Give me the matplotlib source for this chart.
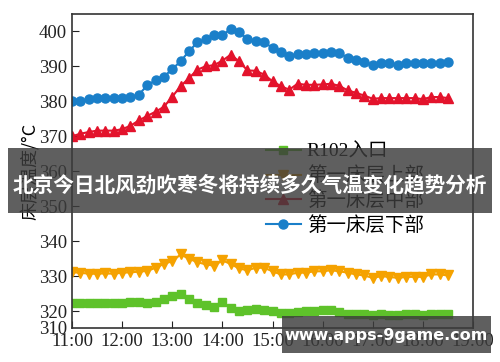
import numpy as np
import matplotlib
matplotlib.use("Agg")
import matplotlib.pyplot as plt
from matplotlib.patches import Rectangle

plt.rcParams['font.family'] = ['Liberation Serif', 'Noto Sans CJK SC', 'DejaVu Sans']

# samples every 10 minutes from 11:00
minutes = np.arange(0, 460, 10)
hours = 11 + minutes / 60.0

r102_inlet = [322.2, 322.3, 322.4, 322.4, 322.2, 322.2, 322.2, 322.5, 322.5, 322.3,
              322.5, 323.6, 324.3, 324.8, 323.5, 322.2, 321.7, 321.2, 322.6, 320.8,
              320.0, 320.4, 320.5, 320.3, 320.1, 319.5, 319.5, 319.8, 320.1, 320.1,
              320.3, 320.3, 319.8, 319.3, 319.1, 319.1, 318.9, 319.1, 318.9, 318.9,
              319.1, 319.3, 318.9, 319.3, 319.3, 319.1]
bed_upper = [331.1, 331.0, 330.7, 330.7, 330.8, 330.7, 331.0, 331.1, 331.3, 331.5,
             332.4, 333.5, 334.3, 336.2, 335.0, 334.0, 333.4, 333.0, 334.5, 333.5,
             332.2, 331.7, 332.4, 332.4, 331.4, 330.5, 330.5, 331.0, 331.0, 331.4,
             331.4, 331.7, 331.4, 331.0, 330.5, 330.2, 329.5, 330.0, 329.8, 329.5,
             329.8, 329.8, 329.8, 330.5, 330.5, 330.2]
bed_middle = [370.0, 370.7, 371.2, 371.6, 371.6, 371.6, 372.0, 373.0, 374.5, 375.8,
              377.0, 378.4, 381.3, 384.3, 386.6, 389.0, 390.0, 390.3, 391.6, 393.3,
              391.4, 388.8, 388.7, 387.6, 385.7, 384.3, 383.3, 385.0, 384.7, 384.7,
              384.8, 385.0, 384.4, 383.1, 382.4, 381.6, 380.7, 380.9, 380.9, 380.9,
              380.9, 380.9, 380.6, 381.2, 381.2, 380.9]
bed_lower = [380.0, 380.0, 380.5, 380.9, 380.9, 380.9, 380.9, 381.1, 381.9, 384.5,
             386.0, 387.0, 389.2, 391.4, 394.3, 396.8, 397.7, 399.0, 398.8, 400.7,
             399.8, 397.7, 397.3, 396.8, 395.3, 394.0, 392.8, 393.4, 393.6, 393.8,
             393.8, 394.0, 393.7, 392.5, 391.9, 391.3, 390.3, 390.8, 390.9, 390.5,
             390.8, 391.0, 391.0, 391.0, 391.0, 391.1]

hour_ticks = [11, 12, 13, 14, 15, 16, 17, 18, 19]
hour_labels = ['11:00', '12:00', '13:00', '14:00', '15:00', '16:00', '17:00', '18:00', '19:00']
y_ticks = [315.2, 320, 330, 340, 350, 360, 370, 380, 390, 400]
y_labels = ['310', '320', '330', '340', '350', '360', '370', '380', '390', '400']

fig = plt.figure(figsize=(5, 3.62), dpi=100)
ax = fig.add_axes([0.144, 0.094, 0.802, 0.867])

ax.plot(hours, r102_inlet, color='#5ec22a', marker='s', markersize=6, lw=1.5, label='R102入口')
ax.plot(hours, bed_upper, color='#f5a200', marker='v', markersize=7, lw=1.5, label='第一床层上部')
ax.plot(hours, bed_middle, color='#e3132c', marker='^', markersize=7, lw=1.5, label='第一床层中部')
ax.plot(hours, bed_lower, color='#1a7fc9', marker='o', markersize=6.5, lw=1.5, label='第一床层下部')

ax.set_xlim(11, 19)
ax.set_ylim(315.2, 404.9)
ax.set_xticks(hour_ticks)
ax.set_xticklabels(hour_labels)
ax.set_yticks(y_ticks)
ax.set_yticklabels(y_labels)
ax.tick_params(direction='in', length=5, labelsize=13.5, colors='#222222')
ax.yaxis.get_major_ticks()[0].tick1line.set_visible(False)
for s in ax.spines.values():
    s.set_color('#333333')
    s.set_linewidth(1.2)
ax.set_ylabel('床层温度/°C', fontsize=13, family=['Noto Sans CJK SC'], labelpad=0)

ax.legend(loc='upper left', bbox_to_anchor=(0.44, 0.645), frameon=False,
          handlelength=1.8, labelspacing=0.3, handletextpad=0.3,
          prop={'family': ['Liberation Serif', 'Noto Sans CJK SC'], 'size': 14})

# overlay banner and watermark
fig.patches.append(Rectangle((0.016, 0.412), 0.968, 0.18, transform=fig.transFigure,
                             facecolor='#3c3c3c', alpha=0.82, zorder=5))
fig.text(0.5, 0.488, '北京今日北风劲吹寒冬将持续多久气温变化趋势分析', color='white',
         fontsize=14.9, fontweight='bold', ha='center', va='center',
         family=['Noto Sans CJK SC'], zorder=6)
fig.patches.append(Rectangle((0.564, 0.025), 0.418, 0.102, transform=fig.transFigure,
                             facecolor='#3c3c3c', alpha=0.82, zorder=5))
fig.text(0.773, 0.072, 'www.apps-9game.com', color='white', fontsize=11.5,
         fontweight='bold', ha='center', va='center', family=['DejaVu Sans'], zorder=6)

fig.savefig('out.png', dpi=100)
